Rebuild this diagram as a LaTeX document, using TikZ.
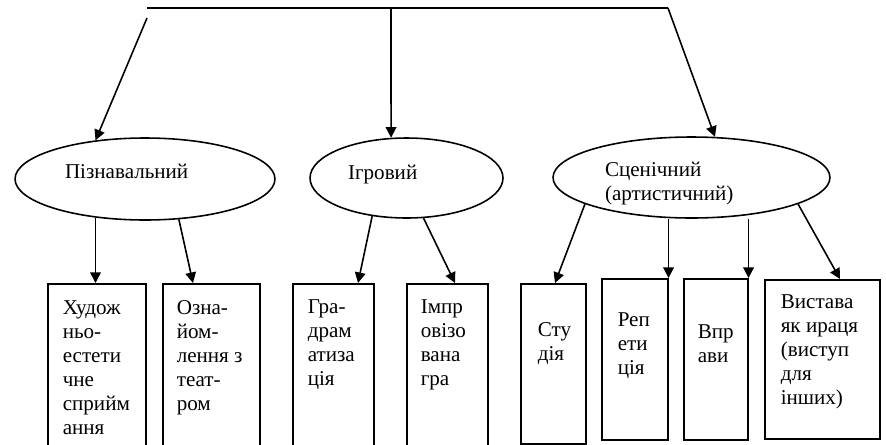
\documentclass[tikz,border=0pt]{standalone}
\usepackage{fontspec}
\setmainfont{Liberation Serif}
\usetikzlibrary{shapes.geometric,arrows.meta,calc}

\begin{document}
\begin{tikzpicture}[x=0.02cm,y=-0.02cm,line width=0.9pt,
		oval/.style={draw,ellipse,inner sep=0pt},
		blok/.style={draw,rectangle,anchor=north west,inner sep=0pt},
		txt/.style={anchor=north west,inner sep=0pt,align=left,font=\fontsize{12}{13.6}\selectfont},
		arr/.style={-{Triangle[length=6pt,width=6pt]}}]
	\useasboundingbox (0,0) rectangle (886,444);
	\clip (0,0) rectangle (886,444);
	\coordinate (tl) at (147,8);
	\coordinate (tm) at (391,8);
	\coordinate (tr) at (668,8);
	\coordinate (ls) at (147,18);
	\draw (tl) -- (tr);
	\node [oval,minimum width=5.2cm,minimum height=1.64cm] (pizn) at (145,179) {};
	\node [oval,minimum width=3.86cm,minimum height=1.6cm] (ihr) at (406.5,178) {};
	\node [oval,minimum width=5.54cm,minimum height=1.62cm] (scen) at (691.5,177.5) {};
	\node [txt] (pizntxt) at ($(pizn.west)+(50,-16)$) {Пізнавальний};
	\node [txt] (ihrtxt) at ($(ihr.west)+(38,-14)$) {Ігровий};
	\node [txt] (scentxt) at ($(scen.west)+(52,-16.5)$) {Сценічний\\(артистичний)};
	\node [blok,minimum width=1.96cm,minimum height=3.4cm] (b1) at (47,283) {};
	\node [blok,minimum width=1.94cm,minimum height=3.4cm] (b2) at (162,283) {};
	\node [blok,minimum width=1.62cm,minimum height=3.4cm] (b3) at (292,283) {};
	\node [blok,minimum width=1.62cm,minimum height=3.4cm] (b4) at (406,283) {};
	\node [blok,minimum width=1.3cm,minimum height=3.2cm] (b5) at (520,283) {};
	\node [blok,minimum width=1.32cm,minimum height=3.22cm] (b6) at (601,278) {};
	\node [blok,minimum width=1.28cm,minimum height=3.22cm] (b7) at (683,278) {};
	\node [blok,minimum width=2.3cm,minimum height=3.18cm] (b8) at (764,279) {};
	\node [txt] (t1) at ($(b1.north west)+(15,17)$) {Худож\\ньо-\\естети\\чне\\сприйм\\ання};
	\node [txt] (t2) at ($(b2.north west)+(14,17)$) {Озна-\\йом-\\лення з\\теат-\\ром};
	\node [txt] (t3) at ($(b3.north west)+(15,16)$) {Гра-\\драм\\атиза\\ція};
	\node [txt] (t4) at ($(b4.north west)+(14,16)$) {Імпр\\овізо\\вана\\гра};
	\node [txt] (t5) at ($(b5.north west)+(17,39)$) {Сту\\дія};
	\node [txt] (t6) at ($(b6.north west)+(16,34)$) {Реп\\ети\\ція};
	\node [txt] (t7) at ($(b7.north west)+(14,46)$) {Впр\\ави};
	\node [txt] (t8) at ($(b8.north west)+(16,15)$) {Вистава\\як ираця\\(виступ\\для\\інших)};
	\draw [arr] (ls) -- (pizn.142);
	\draw [arr] (tm) -- (ihr.111);
	\draw [arr] (tr) -- (scen.60);
	\draw [arr] (pizn.218) -- (pizn.218 |- b1.north);
	\draw [arr] (pizn.-50) -- ($(b2.north west)+(31,0)$);
	\draw [arr] (ihr.228) -- ($(b3.north west)+(66,0)$);
	\draw [arr] (ihr.-67) -- ($(b4.north west)+(49,0)$);
	\draw [arr] (scen.194) -- ($(b5.north west)+(35,0)$);
	\draw [arr] (b6.north east |- scen.south) -- (b6.north east);
	\draw [arr] (b7.north east |- scen.south) -- (b7.north east);
	\draw [arr] (scen.-14) -- ($(b8.north west)+(76,0)$);
\end{tikzpicture}
\end{document}
